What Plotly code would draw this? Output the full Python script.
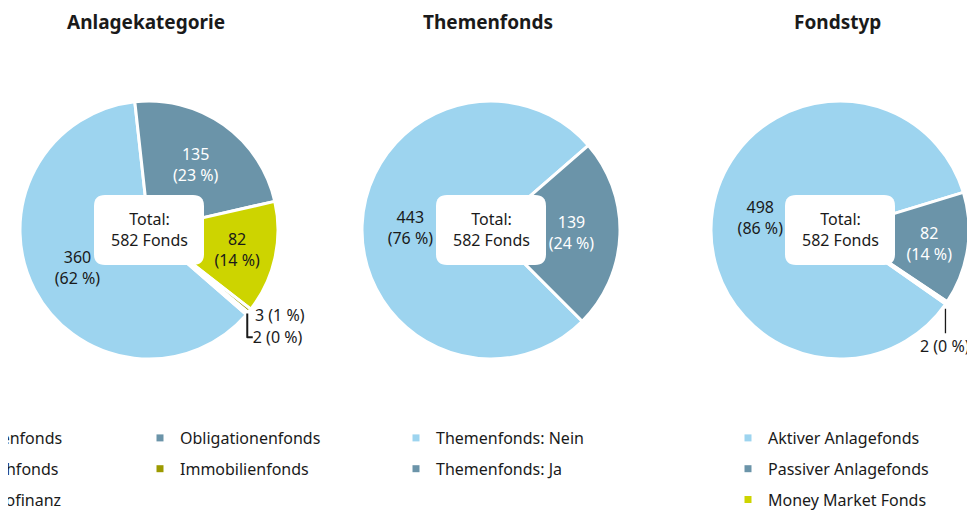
import math
import plotly.graph_objects as go

# The page has an 8px body margin, so the figure is drawn 8px in from the top-left.
OFF = 8
W, H = 975 - OFF, 513 - OFF

titles = ["Anlagekategorie", "Themenfonds", "Fondstyp"]
center_text = "Total:<br>582 Fonds"

cat_labels = ["Aktienfonds", "Obligationenfonds", "Mischfonds", "Immobilienfonds", "Mikrofinanz"]
cat_values = [360, 135, 82, 3, 2]

theme_labels = ["Themenfonds: Nein", "Themenfonds: Ja"]
theme_values = [443, 139]

type_labels = ["Aktiver Anlagefonds", "Passiver Anlagefonds", "Money Market Fonds"]
type_values = [498, 82, 2]

LIGHT = "#9dd4ef"
SLATE = "#6b94a9"
LIME = "#cdd400"
OLIVE = "#9c9a00"
DARK = "#4d7285"
cat_colors = [LIGHT, SLATE, LIME, OLIVE, DARK]
theme_colors = [LIGHT, SLATE]
type_colors = [LIGHT, SLATE, LIME]

FONT = "Noto Sans"
TXT = "#1a1a1a"


def px(x):
    return (x - OFF) / W


def py(y):
    return 1 - (y - OFF) / H


def label(v, tot, inline):
    p = round(v / tot * 100)
    return f"{v} ({p} %)" if inline else f"{v}<br>({p} %)"


# position mode per slice: "in" inside, "out" outside (library placed), "ann" annotated below
pies = [
    dict(labels=cat_labels, values=cat_values, colors=cat_colors, cx=149, rot=131,
         mode=["in", "in", "in", "out", "out"], tcol=[TXT, "white", TXT, TXT, TXT]),
    dict(labels=theme_labels, values=theme_values, colors=theme_colors, cx=491, rot=135,
         mode=["in", "in"], tcol=[TXT, "white"]),
    dict(labels=type_labels, values=type_values, colors=type_colors, cx=840, rot=125,
         mode=["in", "in", "ann"], tcol=[TXT, "white", TXT]),
]

R = 129
CY = 230
fig = go.Figure()
annotations = []
for p in pies:
    vals = p["values"]
    tot = sum(vals)
    texts = [label(v, tot, m != "in") for v, m in zip(vals, p["mode"])]
    pos = {"in": "inside", "out": "outside", "ann": "none"}
    fig.add_trace(go.Pie(
        labels=p["labels"], values=vals, sort=False, direction="clockwise", rotation=p["rot"],
        hole=0.25,
        marker=dict(colors=p["colors"], line=dict(color="white", width=3)),
        text=texts, textinfo="text",
        textposition=[pos[m] for m in p["mode"]],
        insidetextorientation="horizontal",
        insidetextfont=dict(color=p["tcol"], size=16, family=FONT),
        outsidetextfont=dict(color=TXT, size=16, family=FONT),
        domain=dict(x=[px(p["cx"] - R), px(p["cx"] + R)], y=[py(CY + R), py(CY - R)]),
        showlegend=False, hoverinfo="label+value+percent",
    ))
    # label for slices annotated with a leader line below the slice
    cum = 0
    for v, m, t in zip(vals, p["mode"], texts):
        if m == "ann":
            mid = math.radians(p["rot"] + (cum + v / 2) / tot * 360)
            xe = p["cx"] + R * math.sin(mid)
            ye = CY - R * math.cos(mid)
            annotations.append(dict(x=px(xe - 1), y=py(ye + 6), xref="paper", yref="paper", text=t,
                                    showarrow=True, arrowhead=0, arrowwidth=1.3, arrowcolor=TXT,
                                    ax=0, ay=37, standoff=0,
                                    font=dict(family=FONT, size=16, color=TXT)))
        cum += v

# legend entries
legend_sets = [
    ("legend", [cat_labels[0], cat_labels[2], cat_labels[4]], [cat_colors[0], cat_colors[2], cat_colors[4]]),
    ("legend2", [cat_labels[1], cat_labels[3]], [cat_colors[1], cat_colors[3]]),
    ("legend3", theme_labels, theme_colors),
    ("legend4", type_labels, type_colors),
]
for leg, labs, cols in legend_sets:
    for lab, col in zip(labs, cols):
        fig.add_trace(go.Scatter(
            x=[None], y=[None], mode="markers", name=lab, legend=leg, legendgroup=leg + lab,
            marker=dict(symbol="square", size=7, color=col), showlegend=True,
        ))


def leg_layout(x_px):
    return dict(x=px(x_px), y=py(421), xanchor="left", yanchor="top", orientation="v",
                tracegroupgap=7, bgcolor="rgba(0,0,0,0)", borderwidth=0,
                font=dict(family=FONT, size=16, color=TXT), itemclick=False, itemdoubleclick=False)


def rrect(cx, cy, w, h, r):
    x0, x1, y0, y1 = cx - w / 2, cx + w / 2, cy - h / 2, cy + h / 2
    pts = [
        ("M", (x0 + r, y0)), ("L", (x1 - r, y0)), ("Q", (x1, y0), (x1, y0 + r)),
        ("L", (x1, y1 - r)), ("Q", (x1, y1), (x1 - r, y1)), ("L", (x0 + r, y1)),
        ("Q", (x0, y1), (x0, y1 - r)), ("L", (x0, y0 + r)), ("Q", (x0, y0), (x0 + r, y0)),
    ]
    s = ""
    for cmd, *ps in pts:
        s += cmd + " ".join(f"{px(a):.5f},{py(b):.5f}" for a, b in ps)
    return s + "Z"


shapes = []
for p, title in zip(pies, titles):
    cx = p["cx"]
    shapes.append(dict(type="path", xref="paper", yref="paper", path=rrect(cx, CY, 110, 70, 11),
                       fillcolor="white", line=dict(width=0), layer="above"))
    annotations.append(dict(x=px(cx), y=py(CY), xref="paper", yref="paper", text=center_text,
                            xanchor="center", yanchor="middle",
                            showarrow=False, font=dict(family=FONT, size=16, color=TXT)))
    annotations.append(dict(x=px(cx - 3), y=py(22), xref="paper", yref="paper", text=f"<b>{title}</b>",
                            xanchor="center", yanchor="middle",
                            showarrow=False, font=dict(family=FONT, size=19, color=TXT)))

fig.update_layout(
    width=W, height=H,
    margin=dict(l=0, r=0, t=0, b=0, autoexpand=False),
    paper_bgcolor="white", plot_bgcolor="white",
    xaxis=dict(visible=False), yaxis=dict(visible=False),
    shapes=shapes, annotations=annotations,
    legend=leg_layout(-68), legend2=leg_layout(140), legend3=leg_layout(396), legend4=leg_layout(728),
    font=dict(family=FONT, color=TXT),
)

fig.write_html("out.html")
